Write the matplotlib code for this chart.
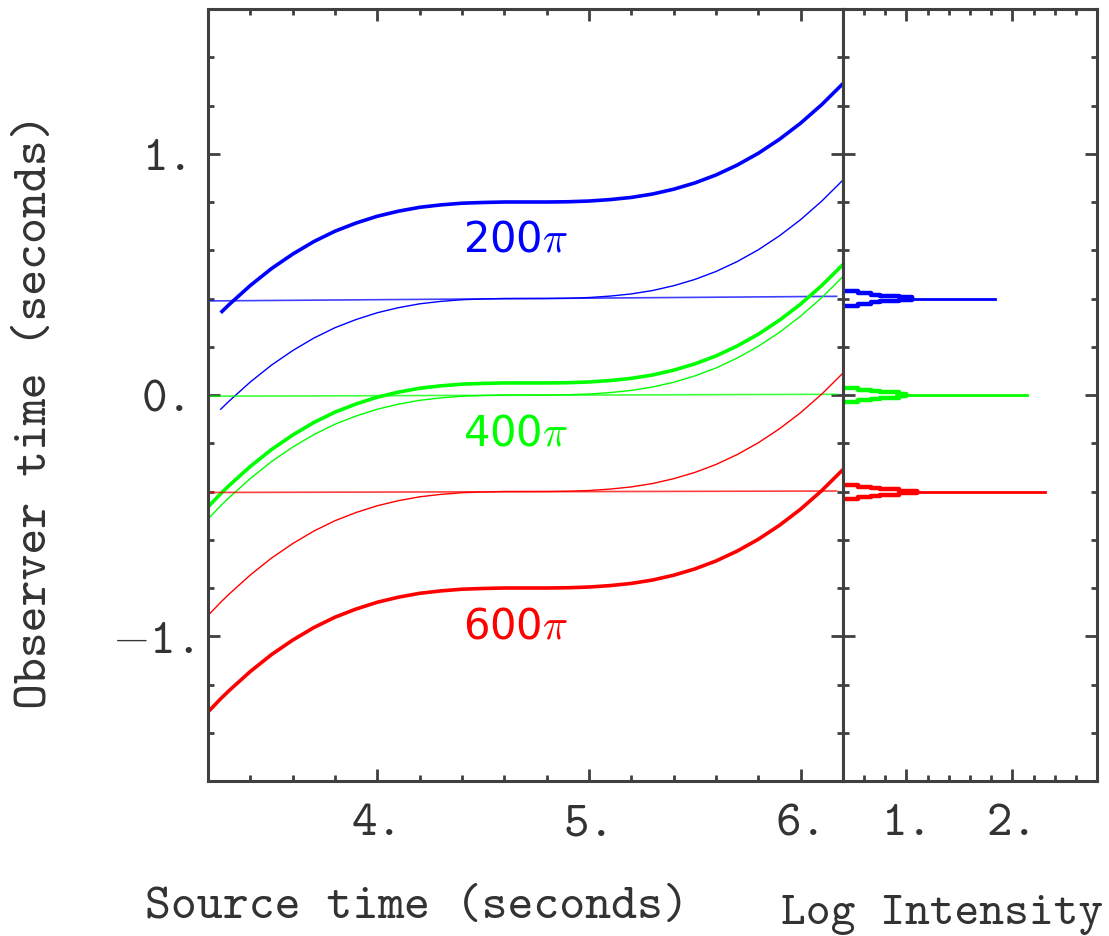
import matplotlib.pyplot as plt
from matplotlib.ticker import MultipleLocator

# Data
# source time samples (seconds)
src_time = [3.2, 3.26, 3.3, 3.4, 3.5, 3.6, 3.7, 3.8, 3.9, 4.0, 4.1, 4.2, 4.3,
            4.4, 4.5, 4.6, 4.7, 4.8, 4.9, 5.0, 5.1, 5.2, 5.3, 5.4, 5.5, 5.6,
            5.7, 5.8, 5.9, 6.0, 6.1, 6.2]
# common S-shaped delay curve, relative to its plateau
delay_shape = [-0.514, -0.459, -0.425, -0.346, -0.276, -0.216, -0.164, -0.121,
               -0.087, -0.059, -0.038, -0.022, -0.012, -0.005, -0.002, 0.0,
               0.0, 0.0, 0.001, 0.004, 0.010, 0.019, 0.033, 0.053, 0.079,
               0.112, 0.153, 0.202, 0.260, 0.327, 0.404, 0.491]

labels = ['200$\\pi$', '400$\\pi$', '600$\\pi$']
colors = ['#0000ff', '#00ff00', '#ff0000']
plateau_thick = [0.80, 0.05, -0.80]
plateau_thin = [0.40, 0.00, -0.40]
first_sample = [1, 0, 0]          # blue curves start a bit later
flat_left = [0.390, -0.005, -0.404]
flat_right = [0.409, 0.003, -0.398]
label_x = [4.655, 4.655, 4.655]
label_y = [0.598, -0.205, -1.004]

# right panel: intensity spikes
spike_center = [0.400, 0.000, -0.402]
spike_peak = [1.84, 2.135, 2.31]
spike_join = [1.05, 1.00, 1.10]
step_logI = [0.38, 0.54, 0.66, 0.75, 0.93]
step_offset = [0.030, 0.021, 0.016, 0.011, 0.005]

plt.rcParams['font.family'] = ['cmtt10', 'DejaVu Sans']
plt.rcParams['mathtext.fontset'] = 'cm'
plt.rcParams['axes.unicode_minus'] = False

W, H = 1109, 937
fig = plt.figure(figsize=(W / 100, H / 100), dpi=100)
ax1 = fig.add_axes([208 / W, 155 / H, 635 / W, 772 / H])
ax2 = fig.add_axes([843 / W, 155 / H, 254 / W, 772 / H])

for i in range(3):
    k = first_sample[i]
    xs = src_time[k:]
    ax1.plot(xs, [plateau_thick[i] + d for d in delay_shape[k:]],
             color=colors[i], lw=2.6, solid_capstyle='butt')
    ax1.plot(xs, [plateau_thin[i] + d for d in delay_shape[k:]],
             color=colors[i], lw=1.0)
    ax1.plot([3.21, 6.17], [flat_left[i], flat_right[i]],
             color=colors[i], lw=1.2, alpha=0.75)
    ax1.text(label_x[i], label_y[i], labels[i], color=colors[i],
             fontsize=30, family='DejaVu Sans', ha='center', va='baseline')

    c = spike_center[i]
    xs = step_logI + [spike_join[i]]
    up = [c + o for o in step_offset] + [c]
    dn = [c - o for o in step_offset] + [c]
    ax2.step(xs, up, where='post', color=colors[i], lw=3.2)
    ax2.step(xs, dn, where='post', color=colors[i], lw=3.2)
    ax2.plot([spike_join[i] - 0.1, spike_peak[i]], [c, c], color=colors[i], lw=2.0)

ax1.set_xlim(3.2, 6.2)
ax2.set_xlim(0.4, 2.8)
for ax in (ax1, ax2):
    ax.set_ylim(-1.6, 1.6)
    ax.yaxis.set_minor_locator(MultipleLocator(0.2))
    ax.xaxis.set_minor_locator(MultipleLocator(0.2))
    ax.tick_params(which='both', direction='in', top=True, right=True,
                   width=2, color='#404040', labelsize=35, labelcolor='#333333')
    ax.tick_params(which='major', length=8.6)
    ax.tick_params(which='minor', length=4.3)
    ax.tick_params(axis='x', pad=16)
    for s in ax.spines.values():
        s.set_linewidth(2.2)
        s.set_color('#404040')

ax1.set_xticks([4, 5, 6], ['4.', '5.', '6.'])
ax1.set_yticks([-1, 0, 1], ['$-$1.', '0.', '1.'])
ax1.tick_params(axis='y', pad=11)
ax2.set_xticks([1, 2], ['1.', '2.'])
ax2.set_yticks([-1, 0, 1], [])

fig.text(417 / W, 1 - 918 / H, 'Source time (seconds)', fontsize=35.5,
         color='#333333', ha='center', va='baseline')
fig.text(942 / W, 1 - 924 / H, 'Log Intensity', fontsize=34,
         color='#333333', ha='center', va='baseline')
fig.text(36 / W, 1 - 411 / H, 'Observer time (seconds)', fontsize=35.5,
         color='#333333', ha='center', va='center', rotation=90)

fig.savefig('out.png', dpi=100)
